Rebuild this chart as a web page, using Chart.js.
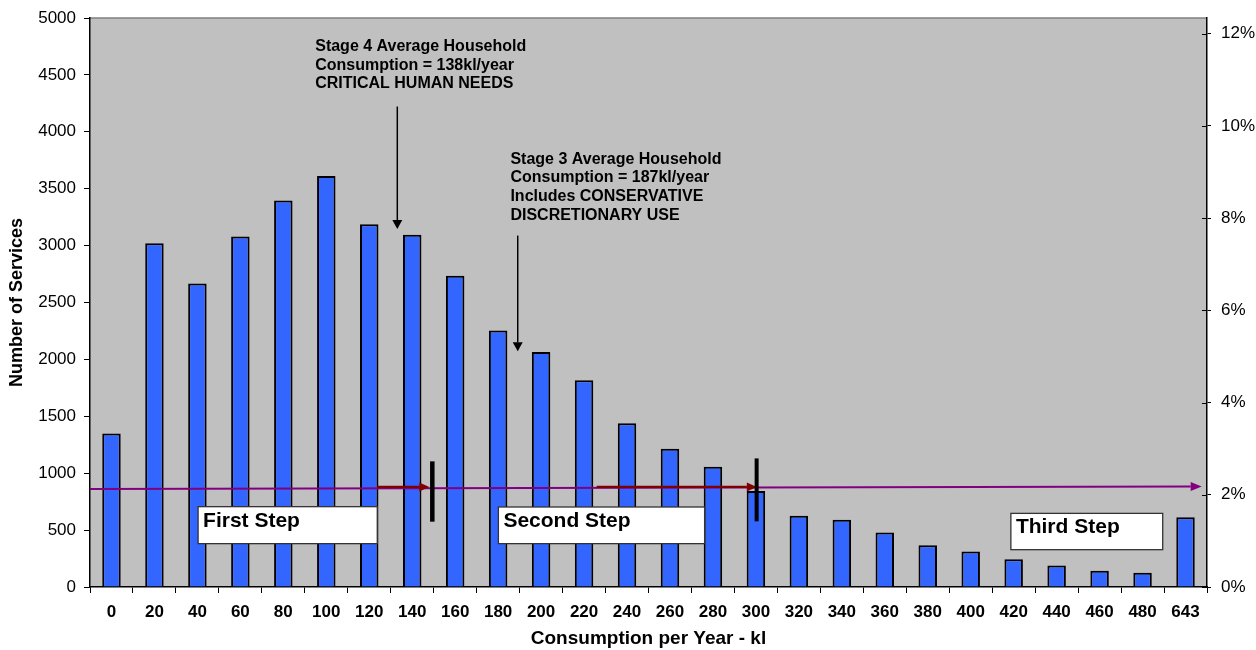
<!DOCTYPE html>
<html>
<head>
<meta charset="utf-8">
<script src="https://cdn.jsdelivr.net/npm/chart.js@4/dist/chart.umd.min.js"></script>
<style>
  html, body { margin: 0; padding: 0; background: #ffffff; }
  #wrap { width: 1256px; height: 650px; }
</style>
</head>
<body>
<div id="wrap"><canvas id="chart" width="1256" height="650"></canvas></div>
<script>
// Consumption bins (kl per year) and number of services in each bin
const categories = ['0', '20', '40', '60', '80', '100', '120', '140', '160', '180', '200', '220', '240',
                    '260', '280', '300', '320', '340', '360', '380', '400', '420', '440', '460', '480', '643'];
const services = [1349, 3020, 2666, 3079, 3396, 3612, 3187, 3096, 2736, 2253, 2065, 1816, 1438,
                  1215, 1057, 844, 627, 591, 480, 366, 313, 243, 190, 143, 126, 612];

// Left axis (count) and right axis (share of all services, %)
const countMax = 5000;
const countStep = 500;
const pctStep = 2;
const totalServices = services.reduce((a, b) => a + b, 0);
const pctMax = countMax / totalServices * 100;

const FONT = '"Liberation Sans", Arial, Helvetica, sans-serif';
Chart.defaults.font.family = FONT;

// Callouts, anchored in category index (x) and service count (y)
const stageNotes = [
  { x: 4.742, y: 4709, lines: ['Stage 4 Average Household', 'Consumption = 138kl/year', 'CRITICAL HUMAN NEEDS'] },
  { x: 9.286, y: 3718, lines: ['Stage 3 Average Household', 'Consumption = 187kl/year', 'Includes CONSERVATIVE', 'DISCRETIONARY USE'] }
];
const stageArrows = [
  { x: 6.653, from: 4222, to: 3146 },
  { x: 9.456, from: 3088, to: 2071 }
];
const tariffLine = { from: -0.5, to: 25.377, yFrom: 861, yTo: 884 };
const stepArrows = [
  { from: 6.187, to: 7.398, y: 879 },
  { from: 11.293, to: 15.021, y: 879 }
];
const stepMarks = [
  { x: 7.468, top: 1104, bottom: 574, w: 4.5 },
  { x: 15.017, top: 1130, bottom: 577, w: 4 }
];
const stepBoxes = [
  { label: 'First Step', left: 2.016, right: 6.187, top: 706, bottom: 381 },
  { label: 'Second Step', left: 9.006, right: 13.806, top: 703, bottom: 381 },
  { label: 'Third Step', left: 20.935, right: 24.469, top: 647, bottom: 328 }
];

function drawArrow(ctx, x1, y1, x2, y2, color, width, headLen, headW) {
  const ang = Math.atan2(y2 - y1, x2 - x1);
  const bx = x2 - headLen * Math.cos(ang);
  const by = y2 - headLen * Math.sin(ang);
  ctx.strokeStyle = color;
  ctx.lineWidth = width;
  ctx.beginPath();
  ctx.moveTo(x1, y1);
  ctx.lineTo(bx, by);
  ctx.stroke();
  ctx.fillStyle = color;
  ctx.beginPath();
  ctx.moveTo(x2, y2);
  ctx.lineTo(bx - headW / 2 * Math.sin(ang), by + headW / 2 * Math.cos(ang));
  ctx.lineTo(bx + headW / 2 * Math.sin(ang), by - headW / 2 * Math.cos(ang));
  ctx.closePath();
  ctx.fill();
}

const chartDecor = {
  id: 'chartDecor',
  beforeDraw(chart) {
    const { ctx, chartArea: a } = chart;
    ctx.save();
    ctx.fillStyle = '#c0c0c0';
    ctx.fillRect(a.left, a.top, a.right - a.left, a.bottom - a.top);
    ctx.strokeStyle = '#808080';
    ctx.lineWidth = 1.5;
    ctx.beginPath();
    ctx.moveTo(a.left, a.top);
    ctx.lineTo(a.right, a.top);
    ctx.stroke();
    ctx.restore();
  },
  afterDatasetsDraw(chart) {
    const { ctx, chartArea: a, scales } = chart;
    const X = v => scales.x.getPixelForValue(v);
    const Y = v => scales.y.getPixelForValue(v);
    ctx.save();

    // tariff line across the whole range
    drawArrow(ctx, X(tariffLine.from), Y(tariffLine.yFrom), X(tariffLine.to), Y(tariffLine.yTo),
              '#800080', 2, 11, 9);

    // step arrows
    stepArrows.forEach(s => drawArrow(ctx, X(s.from), Y(s.y), X(s.to), Y(s.y), '#800000', 2.2, 10, 9));

    // step boundaries
    ctx.strokeStyle = '#000000';
    stepMarks.forEach(m => {
      ctx.lineWidth = m.w;
      ctx.beginPath();
      ctx.moveTo(X(m.x), Y(m.top));
      ctx.lineTo(X(m.x), Y(m.bottom));
      ctx.stroke();
    });

    // step labels
    stepBoxes.forEach(b => {
      const l = X(b.left), r = X(b.right), t = Y(b.top), btm = Y(b.bottom);
      ctx.fillStyle = '#ffffff';
      ctx.fillRect(l, t, r - l, btm - t);
      ctx.strokeStyle = '#333333';
      ctx.lineWidth = 1.3;
      ctx.strokeRect(l, t, r - l, btm - t);
      ctx.fillStyle = '#000000';
      ctx.font = 'bold 21px ' + FONT;
      ctx.textAlign = 'left';
      ctx.textBaseline = 'alphabetic';
      ctx.fillText(b.label, l + 5, t + 20);
    });

    // stage callouts
    stageArrows.forEach(s => drawArrow(ctx, X(s.x), Y(s.from), X(s.x), Y(s.to), '#000000', 1.5, 9, 10));
    ctx.fillStyle = '#000000';
    ctx.font = 'bold 16px ' + FONT;
    ctx.textAlign = 'left';
    ctx.textBaseline = 'alphabetic';
    stageNotes.forEach(n => {
      n.lines.forEach((line, i) => ctx.fillText(line, X(n.x), Y(n.y) + i * 18.6));
    });

    // right axis tick marks cross the axis line
    ctx.strokeStyle = '#000000';
    ctx.lineWidth = 1;
    scales.y2.ticks.forEach(t => {
      const y = Math.round(scales.y2.getPixelForValue(t.value)) + 0.5;
      ctx.beginPath();
      ctx.moveTo(a.right - 5, y);
      ctx.lineTo(a.right, y);
      ctx.stroke();
    });
    ctx.restore();
  }
};

new Chart(document.getElementById('chart'), {
  type: 'bar',
  data: {
    labels: categories,
    datasets: [{
      label: 'Number of Services',
      data: services,
      yAxisID: 'y',
      backgroundColor: '#3366ff',
      borderColor: '#000000',
      borderWidth: 2,
      barPercentage: 0.43,
      categoryPercentage: 1
    }]
  },
  options: {
    responsive: false,
    animation: false,
    devicePixelRatio: 1,
    layout: { padding: { top: 18, right: 0, bottom: 0, left: 0 } },
    plugins: { legend: { display: false }, tooltip: { enabled: false } },
    scales: {
      x: {
        type: 'category',
        offset: true,
        grid: { display: true, drawOnChartArea: false, offset: true, tickLength: 6, color: '#000000', lineWidth: 1 },
        border: { display: true, color: '#000000', width: 1.5 },
        ticks: { color: '#000000', font: { family: FONT, size: 17, weight: 'bold' }, padding: 9, maxRotation: 0, autoSkip: false },
        title: {
          display: true, text: 'Consumption per Year - kl', color: '#000000',
          font: { family: FONT, size: 19, weight: 'bold' }, padding: { top: 0, bottom: 0 }
        },
        afterFit(s) { s.height = 63; s.paddingLeft = 0; s.paddingRight = 0; }
      },
      y: {
        position: 'left',
        min: 0, max: countMax,
        grid: { display: true, drawOnChartArea: false, tickLength: 6, color: '#000000', lineWidth: 1 },
        border: { display: true, color: '#000000', width: 1.5 },
        ticks: { stepSize: countStep, color: '#000000', font: { family: FONT, size: 17 }, padding: 8,
                 callback: v => String(v) },
        title: {
          display: true, text: 'Number of Services', color: '#000000',
          font: { family: FONT, size: 18, weight: 'bold' }, padding: { top: 6, bottom: 0 }
        },
        afterFit(s) { s.width = 90; s.paddingTop = 0; s.paddingBottom = 0; }
      },
      y2: {
        position: 'right',
        min: 0, max: pctMax,
        grid: { display: true, drawOnChartArea: false, tickLength: 4, color: '#000000', lineWidth: 1 },
        border: { display: true, color: '#000000', width: 1.5 },
        ticks: {
          stepSize: pctStep, includeBounds: false, color: '#000000',
          font: { family: FONT, size: 17 }, padding: 10,
          callback: v => v + '%'
        },
        afterFit(s) { s.width = 49; s.paddingTop = 0; s.paddingBottom = 0; }
      }
    }
  },
  plugins: [chartDecor]
});
</script>
</body>
</html>
